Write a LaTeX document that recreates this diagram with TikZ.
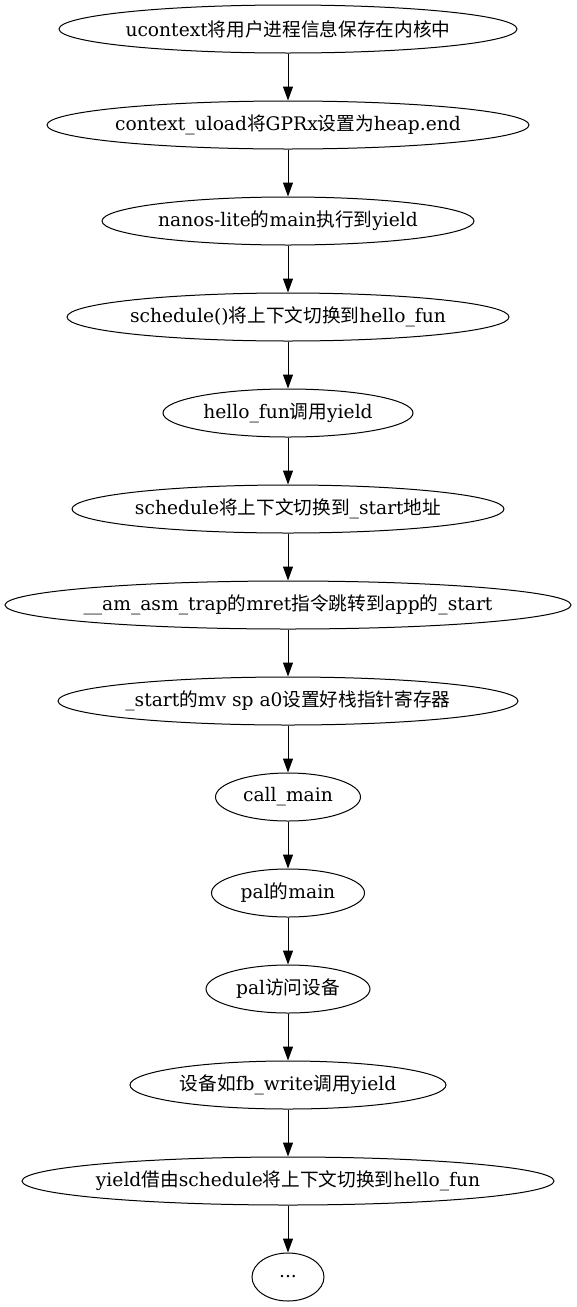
\documentclass[tikz,border=0pt]{standalone}
\usepackage{fontspec}
\setmainfont{DejaVu Serif}
\newfontfamily\cjkf{Noto Sans CJK SC}
\newcommand\zh[1]{{\cjkf #1}}
\newcommand\tx[1]{\makebox[0pt]{#1}}
\usetikzlibrary{shapes.geometric,arrows.meta}
\tikzset{
  st/.style={ellipse,draw,line width=0.75pt,inner sep=0pt,minimum height=36pt,font=\fontsize{14pt}{16pt}\selectfont},
  ew/.style={minimum width=#1*0.75pt},
  arr/.style={-{Triangle[length=10.5pt,width=7.5pt]},line width=0.75pt}
}
\begin{document}
\begin{tikzpicture}[x=0.75pt,y=-0.75pt]
\useasboundingbox (0,0) rectangle (576,1307);
\node[st,ew=458] (n1) at (288,29) {\tx{ucontext\zh{将用户进程信息保存在内核中}}};
\node[st,ew=482] (n2) at (288,125) {\tx{context\_uload\zh{将}GPRx\zh{设置为}heap.end}};
\node[st,ew=372] (n3) at (288,221) {\tx{nanos-lite\zh{的}main\zh{执行到}yield}};
\node[st,ew=442] (n4) at (288,317) {\tx{schedule()\zh{将上下文切换到}hello\_fun}};
\node[st,ew=250] (n5) at (288,413) {\tx{hello\_fun\zh{调用}yield}};
\node[st,ew=432] (n6) at (288,509) {\tx{schedule\zh{将上下文切换到}\_start\zh{地址}}};
\node[st,ew=566] (n7) at (288,605) {\tx{\_\_am\_asm\_trap\zh{的}mret\zh{指令跳转到}app\zh{的}\_start}};
\node[st,ew=460] (n8) at (288,701) {\tx{\_start\zh{的}mv sp a0\zh{设置好栈指针寄存器}}};
\node[st,ew=145] (n9) at (288,797) {\tx{call\_main}};
\node[st,ew=153] (n10) at (288,893) {\tx{pal\zh{的}main}};
\node[st,ew=164] (n11) at (288,989) {\tx{pal\zh{访问设备}}};
\node[st,ew=316] (n12) at (288,1085) {\tx{\zh{设备如}fb\_write\zh{调用}yield}};
\node[st,ew=532] (n13) at (288,1181) {\tx{yield\zh{借由}schedule\zh{将上下文切换到}hello\_fun}};
\node[st,ew=72] (n14) at (288,1277) {\tx{...}};
\foreach \a/\b in {n1/n2,n2/n3,n3/n4,n4/n5,n5/n6,n6/n7,n7/n8,n8/n9,n9/n10,n10/n11,n11/n12,n12/n13,n13/n14}
  \draw[arr] (\a) -- (\b);
\end{tikzpicture}
\end{document}
